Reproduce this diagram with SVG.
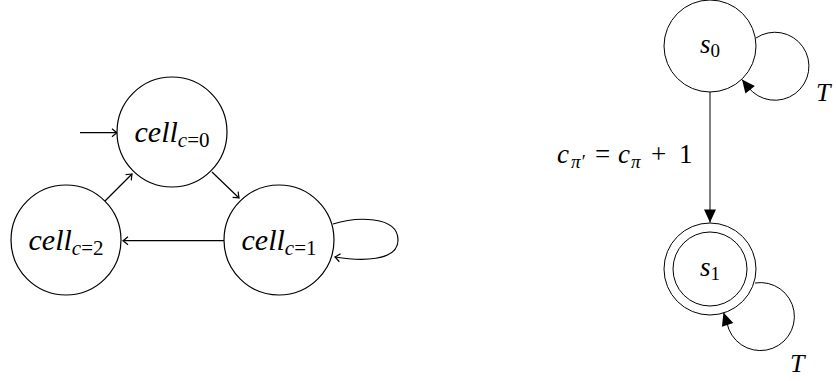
<svg xmlns="http://www.w3.org/2000/svg" width="836" height="381" viewBox="0 0 836 381">
<defs>
<style>
.st{fill:#fff;stroke:#000;stroke-width:1.2}
.st2{fill:#fff;stroke:#000;stroke-width:1}
.e{fill:none;stroke:#000;stroke-width:1.2}
.e2{fill:none;stroke:#000;stroke-width:1}
text{font-family:'Liberation Serif',serif;font-style:italic;fill:#000}
.u{font-style:normal}
</style>
<marker id="to" viewBox="-6 -5 8 10" markerWidth="8" markerHeight="10" refX="0" refY="0" orient="auto" markerUnits="userSpaceOnUse">
<path d="M-5,-4 Q-1.5,-1 0,0 Q-1.5,1 -5,4" fill="none" stroke="#000" stroke-width="1.2"/>
</marker>
<marker id="tri" viewBox="-14 -7 15 14" markerWidth="15" markerHeight="14" refX="0" refY="0" orient="auto" markerUnits="userSpaceOnUse">
<path d="M0,0 L-13,-6 L-13,6 Z" fill="#000"/>
</marker>
</defs>
<rect width="836" height="381" fill="#fff"/>
<g id="connectors">
<line class="e" x1="80" y1="132.7" x2="117" y2="132.7" marker-end="url(#to)"/>
<line class="e" x1="212" y1="172" x2="239" y2="198" marker-end="url(#to)"/>
<line class="e" x1="105" y1="201" x2="132" y2="174" marker-end="url(#to)"/>
<line class="e" x1="224" y1="240.7" x2="123" y2="240.7" marker-end="url(#to)"/>
<path class="e" d="M333,224 C355,217 398,215 398,240 C398,262 360,261 335,257" marker-end="url(#to)"/>
<line class="e2" x1="710" y1="92" x2="710" y2="222.5" marker-end="url(#tri)"/>
<path class="e2" d="M756,38 A34,34 0 1 1 748,87 L742,79.5" marker-end="url(#tri)"/>
<path class="e2" d="M755,283 A34,34 0 1 1 727,323 L723.5,312.5" marker-end="url(#tri)"/>
<text y="163" font-size="27"><tspan x="557">c</tspan><tspan x="571" dy="5" font-size="19">π′</tspan><tspan class="u" x="595" dy="-5">=</tspan><tspan x="618">c</tspan><tspan x="631" dy="5" font-size="19">π</tspan><tspan class="u" x="651" dy="-5">+</tspan><tspan class="u" x="679">1</tspan></text>
<text x="816" y="101" font-size="26">T</text>
<text x="790" y="372" font-size="26">T</text>
</g>
<g id="cell0">
<circle class="st" cx="172" cy="132" r="55"/>
<text x="172" y="142" font-size="30" text-anchor="middle">cell<tspan font-size="21" dy="5">c<tspan class="u">=0</tspan></tspan></text>
</g>
<g id="cell1">
<circle class="st" cx="279" cy="240" r="55"/>
<text x="279" y="250" font-size="30" text-anchor="middle">cell<tspan font-size="21" dy="5">c<tspan class="u">=1</tspan></tspan></text>
</g>
<g id="cell2">
<circle class="st" cx="66" cy="240" r="55"/>
<text x="66" y="250" font-size="30" text-anchor="middle">cell<tspan font-size="21" dy="5">c<tspan class="u">=2</tspan></tspan></text>
</g>
<g id="s0">
<circle class="st2" cx="710" cy="46" r="46"/>
<text x="710" y="53" font-size="27" text-anchor="middle">s<tspan class="u" font-size="19" dy="4">0</tspan></text>
</g>
<g id="s1">
<circle class="st2" cx="710" cy="269" r="46"/>
<circle class="st2" cx="710" cy="269" r="37" fill="none"/>
<text x="710" y="276" font-size="27" text-anchor="middle">s<tspan class="u" font-size="19" dy="4">1</tspan></text>
</g>
</svg>
